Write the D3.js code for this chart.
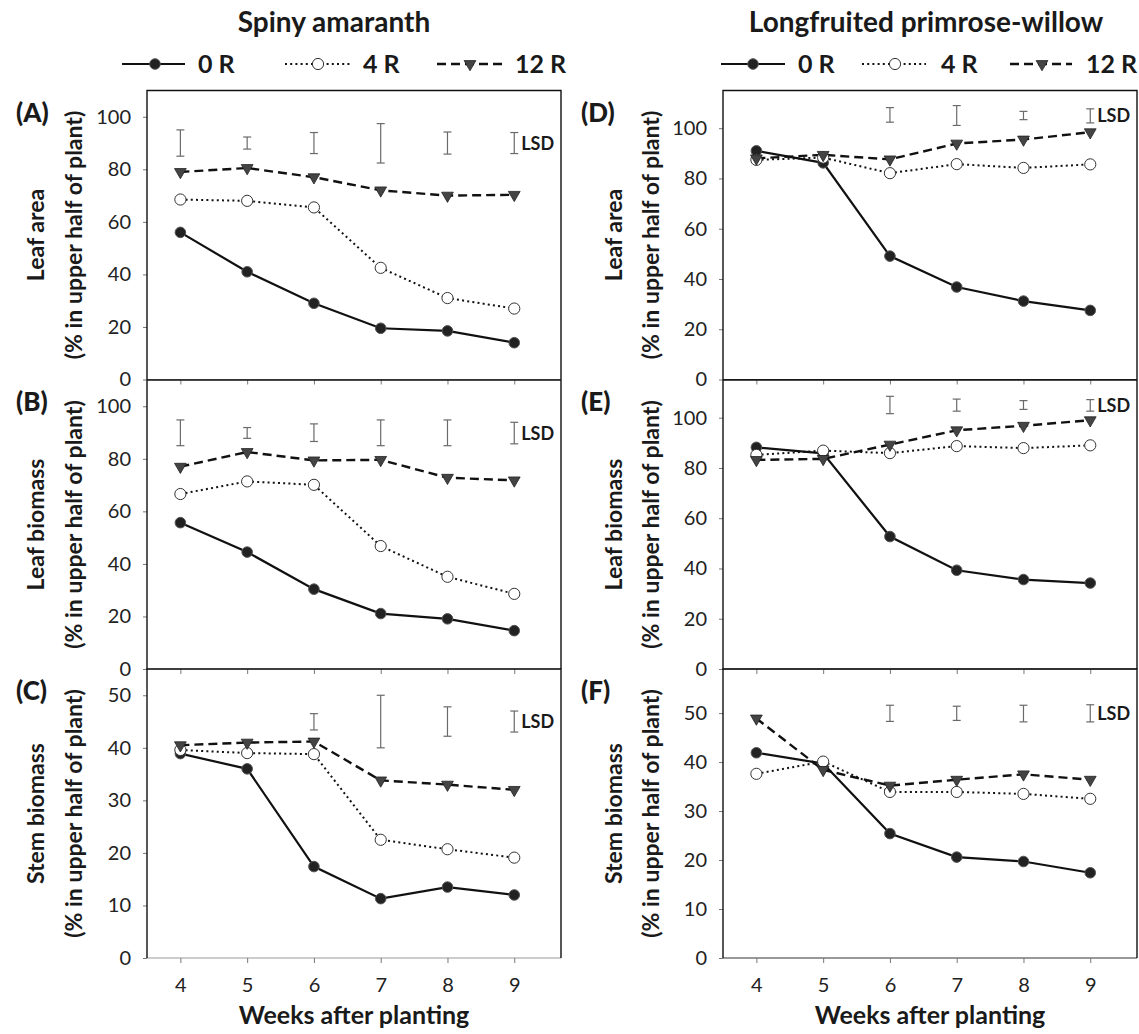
<!DOCTYPE html>
<html>
<head>
<meta charset="utf-8">
<script src="https://cdn.jsdelivr.net/npm/d3@7"></script>
<style>
body { margin:0; background:#fff; }
svg text { font-family: Lato, 'Open Sans', sans-serif; fill:#1a1a1a; }
</style>
</head>
<body>
<div id="chart"></div>
<script>
// categories and labels
var weeks = [4, 5, 6, 7, 8, 9]
var seriesNames = ['0 R', '4 R', '12 R']
var species = ['Spiny amaranth', 'Longfruited primrose-willow']
var measures = ['Leaf area', 'Leaf biomass', 'Stem biomass']
var letters = [['A', 'B', 'C'], ['D', 'E', 'F']]
var ticks100 = [0, 20, 40, 60, 80, 100]
var ticks50 = [0, 10, 20, 30, 40, 50]

// Spiny amaranth
var a0R = [56, 41, 29, 19.5, 18.5, 14]
var a4R = [68.5, 68, 65.5, 42.5, 31, 27]
var a12R = [79, 80.5, 77, 72, 70, 70.3]
var aLsdLo = [85, 87.7, 86, 82.4, 85.8, 86]
var aLsdHi = [95, 92.3, 94, 97.4, 94.2, 94]

var b0R = [55.7, 44.5, 30.4, 21.1, 19.1, 14.6]
var b4R = [66.6, 71.4, 70.1, 46.8, 35.1, 28.6]
var b12R = [77, 82.6, 79.4, 79.6, 72.8, 71.8]
var bLsdLo = [85, 87.8, 86.6, 85, 85, 85.7]
var bLsdHi = [94.8, 91.9, 93.3, 94.8, 94.8, 93.9]

var c0R = [38.9, 36, 17.4, 11.3, 13.5, 12]
var c4R = [39.6, 39, 38.8, 22.5, 20.7, 19.1]
var c12R = [40.5, 41, 41.2, 33.8, 33, 32]
var cLsdLo = [null, null, 43.4, 40, 42.2, 43]
var cLsdHi = [null, null, 46.5, 50, 47.8, 47]

// Longfruited primrose-willow
var d0R = [91, 86.2, 49.1, 36.8, 31.2, 27.5]
var d4R = [87.4, 88.3, 82.1, 85.7, 84.2, 85.6]
var d12R = [88, 89.4, 87.6, 93.9, 95.5, 98.4]
var dLsdLo = [null, null, 102.4, 101.1, 103.4, 102.1]
var dLsdHi = [null, null, 108.2, 109, 106.7, 107.7]

var e0R = [88.2, 85.8, 52.7, 39.3, 35.6, 34.2]
var e4R = [85.2, 86.9, 85.9, 88.7, 87.9, 89]
var e12R = [83.2, 83.6, 89.3, 95, 96.8, 99]
var eLsdLo = [null, null, 101.6, 102.6, 103.3, 102.6]
var eLsdHi = [null, null, 108.5, 107.4, 106.8, 107.2]

var f0R = [41.9, 39.7, 25.4, 20.6, 19.7, 17.4]
var f4R = [37.6, 40.1, 33.9, 33.9, 33.5, 32.5]
var f12R = [48.9, 38.4, 35.2, 36.4, 37.5, 36.4]
var fLsdLo = [null, null, 48.3, 48.5, 48.2, 48.2]
var fLsdHi = [null, null, 51.6, 51.4, 51.6, 51.7]

var yMax = [[110, 110, 55], [115, 115, 59]]

var panels = [
	{col:0, row:0, series:[a0R, a4R, a12R], lo:aLsdLo, hi:aLsdHi, ticks:ticks100},
	{col:0, row:1, series:[b0R, b4R, b12R], lo:bLsdLo, hi:bLsdHi, ticks:ticks100},
	{col:0, row:2, series:[c0R, c4R, c12R], lo:cLsdLo, hi:cLsdHi, ticks:ticks50},
	{col:1, row:0, series:[d0R, d4R, d12R], lo:dLsdLo, hi:dLsdHi, ticks:ticks100},
	{col:1, row:1, series:[e0R, e4R, e12R], lo:eLsdLo, hi:eLsdHi, ticks:ticks100},
	{col:1, row:2, series:[f0R, f4R, f12R], lo:fLsdLo, hi:fLsdHi, ticks:ticks50}
]

// layout
var W = 1139, H = 1034
var colLeft = [147, 723], plotW = 414
var rowTop = [90.5, 380, 669], plotH = 289
var titleX = [334, 926]
var yTitleX = [[36, 74], [614, 651]]
var letterX = [16, 581]
var legendPos = [
	[{x1:122, x2:185, mx:155, tx:198}, {x1:285, x2:350, mx:318, tx:363}, {x1:437, x2:504, mx:470, tx:515}],
	[{x1:721, x2:785, mx:753, tx:798}, {x1:862, x2:926, mx:895, tx:941}, {x1:1010, x2:1072, mx:1042, tx:1086}]
]

var lineStyles = [
	{dash:null, width:2.2},
	{dash:'2,3.2', width:2},
	{dash:'9,5', width:2.4}
]

var svg = d3.select('#chart').append('svg').attr('width', W).attr('height', H)

var x = d3.scaleLinear().domain([3.5, 9.7]).range([0, plotW])
var tri = d3.symbol().type(d3.symbolTriangle).size(60)

function drawMarker(g, i, px, py) {
	if(i == 0) {
		g.append('circle').attr('cx', px).attr('cy', py).attr('r', 5.3)
			.attr('fill', '#222').attr('stroke', '#555').attr('stroke-width', 1)
	} else if(i == 1) {
		g.append('circle').attr('cx', px).attr('cy', py).attr('r', 5.6)
			.attr('fill', '#fff').attr('stroke', '#333').attr('stroke-width', 1)
	} else {
		g.append('path').attr('d', tri).attr('transform', 'translate(' + px + ',' + py + ') rotate(180)')
			.attr('fill', '#444').attr('stroke', '#222').attr('stroke-width', 0.8)
	}
}

// titles and legends
species.forEach(function(s, c) {
	svg.append('text').attr('x', titleX[c]).attr('y', 32).attr('text-anchor', 'middle')
		.style('font-size', '28px').style('font-weight', 'bold').text(s)
	legendPos[c].forEach(function(p, i) {
		var lg = svg.append('g')
		lg.append('line').attr('x1', p.x1).attr('x2', p.x2).attr('y1', 64).attr('y2', 64)
			.attr('stroke', '#111').attr('stroke-width', lineStyles[i].width)
			.attr('stroke-dasharray', lineStyles[i].dash)
		drawMarker(lg, i, p.mx, 64)
		lg.append('text').attr('x', p.tx).attr('y', 64).attr('dy', '0.36em')
			.style('font-size', '25px').style('font-weight', 'bold').text(seriesNames[i])
	})
})

// panels
panels.forEach(function(p) {
	var left = colLeft[p.col], top = rowTop[p.row]
	var y = d3.scaleLinear().domain([0, yMax[p.col][p.row]]).range([plotH, 0])
	var g = svg.append('g').attr('transform', 'translate(' + left + ',' + top + ')')

	// y axis
	var ya = g.append('g').call(d3.axisLeft(y).tickValues(p.ticks).tickSize(4).tickPadding(12))
	ya.select('.domain').remove()
	ya.selectAll('line').attr('stroke', '#777')
	ya.selectAll('text').style('font-size', '20px').style('fill', '#222')

	// x axis
	var xa = g.append('g').attr('transform', 'translate(0,' + plotH + ')')
		.call(d3.axisBottom(x).tickValues(weeks).tickSize(5).tickPadding(15).tickFormat(d3.format('d')))
	xa.select('.domain').attr('stroke', p.col == 0 ? '#999' : '#333').attr('d', 'M0,0H' + plotW)
	xa.selectAll('line').attr('stroke', '#777')
	xa.selectAll('text').style('font-size', '20px').style('fill', '#222')
	if(p.row < 2) xa.selectAll('text').remove()

	// box
	g.append('path').attr('d', 'M0,' + plotH + 'V0H' + plotW + 'V' + plotH)
		.attr('fill', 'none').attr('stroke', '#111').attr('stroke-width', 1.4)

	// LSD bars
	weeks.forEach(function(w, k) {
		if(p.lo[k] == null) return
		var bx = x(w), y1 = y(p.hi[k]), y2 = y(p.lo[k])
		var eb = g.append('g').attr('stroke', '#6a6a6a').attr('stroke-width', 1.2)
		eb.append('line').attr('x1', bx).attr('x2', bx).attr('y1', y1).attr('y2', y2)
		eb.append('line').attr('x1', bx - 4).attr('x2', bx + 4).attr('y1', y1).attr('y2', y1)
		eb.append('line').attr('x1', bx - 4).attr('x2', bx + 4).attr('y1', y2).attr('y2', y2)
		if(k == weeks.length - 1) {
			g.append('text').attr('x', bx + 7).attr('y', (y1 + y2) / 2).attr('dy', '0.36em')
				.style('font-size', '18px').style('font-weight', 'bold').text('LSD')
		}
	})

	// series lines and markers
	p.series.forEach(function(vals, i) {
		var line = d3.line().x(function(d, k) { return x(weeks[k]) }).y(function(d) { return y(d) })
		g.append('path').datum(vals).attr('d', line).attr('fill', 'none')
			.attr('stroke', '#111').attr('stroke-width', lineStyles[i].width)
			.attr('stroke-dasharray', lineStyles[i].dash)
	})
	p.series.forEach(function(vals, i) {
		vals.forEach(function(v, k) { drawMarker(g, i, x(weeks[k]), y(v)) })
	})

	// labels
	svg.append('text').attr('x', letterX[p.col]).attr('y', top + 22).attr('dy', '0.36em')
		.style('font-size', '26px').style('font-weight', '900').text('(' + letters[p.col][p.row] + ')')
	var cy = top + plotH / 2
	svg.append('text').attr('transform', 'translate(' + yTitleX[p.col][0] + ',' + cy + ') rotate(-90)')
		.attr('text-anchor', 'middle').attr('dy', '0.36em')
		.style('font-size', '23px').style('font-weight', 'bold').text(measures[p.row])
	svg.append('text').attr('transform', 'translate(' + yTitleX[p.col][1] + ',' + cy + ') rotate(-90)')
		.attr('text-anchor', 'middle').attr('dy', '0.36em')
		.style('font-size', '23px').style('font-weight', 'bold').text('(% in upper half of plant)')

	if(p.row == 2) {
		svg.append('text').attr('x', left + plotW / 2).attr('y', 1024).attr('text-anchor', 'middle')
			.style('font-size', '25px').style('font-weight', 'bold').text('Weeks after planting')
	}
})
</script>
</body>
</html>
